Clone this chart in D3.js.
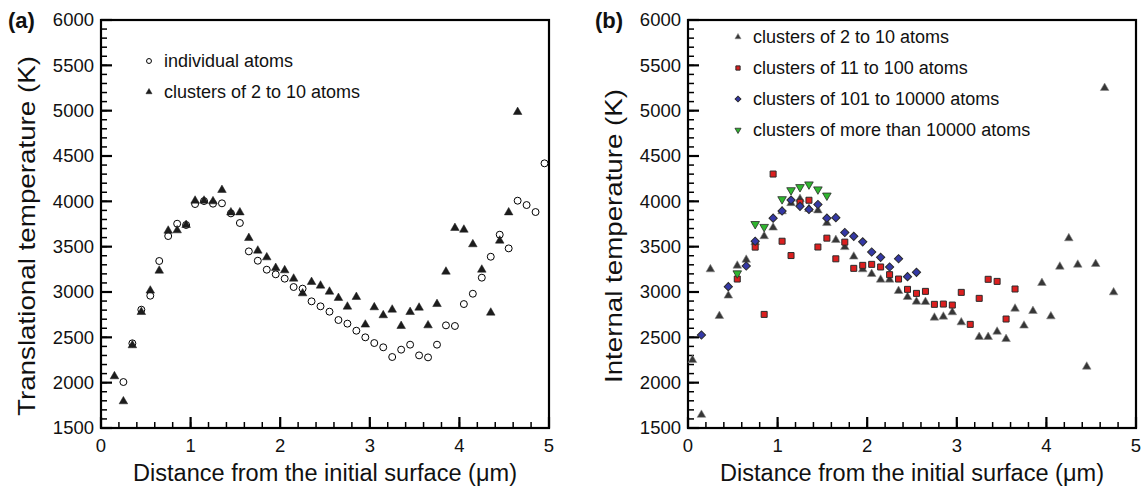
<!DOCTYPE html>
<html>
<head>
<meta charset="utf-8">
<script src="https://cdn.jsdelivr.net/npm/d3@7"></script>
<style>
  body { margin: 0; background: #fff; }
  svg { font-family: "Liberation Sans", Arial, Helvetica, sans-serif; }
</style>
</head>
<body>
<svg id="chart" width="1143" height="488"></svg>
<script>
// panel (a): translational temperature
const aAtoms = [
  [0.25, 2007], [0.35, 2434], [0.45, 2805], [0.55, 2959], [0.65, 3342], [0.75, 3617], [0.85, 3753], [0.95, 3739],
  [1.05, 3970], [1.15, 4003], [1.25, 3974], [1.35, 3978], [1.45, 3867], [1.55, 3761], [1.65, 3448], [1.75, 3345],
  [1.85, 3246], [1.95, 3195], [2.05, 3147], [2.15, 3055], [2.25, 3037], [2.35, 2897], [2.45, 2842], [2.55, 2783],
  [2.65, 2691], [2.75, 2651], [2.85, 2573], [2.95, 2500], [3.05, 2437], [3.15, 2390], [3.25, 2283], [3.35, 2364],
  [3.45, 2419], [3.55, 2301], [3.65, 2279], [3.75, 2419], [3.85, 2632], [3.95, 2625], [4.05, 2867], [4.15, 2981],
  [4.25, 3158], [4.35, 3389], [4.45, 3632], [4.55, 3481], [4.65, 4007], [4.75, 3959], [4.85, 3882], [4.95, 4419]
]
const aSmall = [
  [0.15, 2070], [0.25, 1794], [0.35, 2412], [0.45, 2779], [0.55, 3015], [0.65, 3235], [0.75, 3676], [0.85, 3680],
  [0.95, 3739], [1.05, 4007], [1.15, 4007], [1.25, 4000], [1.35, 4125], [1.45, 3878], [1.55, 3878], [1.65, 3595],
  [1.75, 3456], [1.85, 3382], [1.95, 3265], [2.05, 3239], [2.15, 3147], [2.25, 2985], [2.35, 3110], [2.45, 3070],
  [2.55, 3003], [2.65, 2934], [2.75, 2838], [2.85, 2945], [2.95, 2640], [3.05, 2831], [3.15, 2743], [3.25, 2805],
  [3.35, 2625], [3.45, 2779], [3.55, 2827], [3.65, 2632], [3.75, 2867], [3.85, 3224], [3.95, 3706], [4.05, 3687],
  [4.15, 3526], [4.25, 3246], [4.35, 2772], [4.45, 3566], [4.55, 3878], [4.65, 4985]
]

// panel (b): internal temperature
const bSmall = [
  [0.05, 2250], [0.15, 1645], [0.25, 3250], [0.35, 2735], [0.45, 2960], [0.55, 3290], [0.65, 3355], [0.75, 3550],
  [0.85, 3615], [0.95, 3710], [1.05, 3890], [1.15, 3980], [1.25, 4025], [1.35, 3915], [1.45, 3900], [1.55, 3760],
  [1.65, 3573], [1.75, 3495], [1.85, 3390], [1.95, 3250], [2.05, 3198], [2.15, 3136], [2.25, 3136], [2.35, 3011],
  [2.45, 2945], [2.55, 2893], [2.65, 2890], [2.75, 2717], [2.85, 2728], [2.95, 2776], [3.05, 2665], [3.25, 2504],
  [3.35, 2504], [3.45, 2562], [3.55, 2481], [3.65, 2816], [3.75, 2629], [3.85, 2790], [3.95, 3099], [4.05, 2731],
  [4.15, 3279], [4.25, 3592], [4.35, 3301], [4.45, 2176], [4.55, 3309], [4.65, 5250], [4.75, 2996]
]
const bMedium = [
  [0.55, 3143], [0.75, 3495], [0.85, 2753], [0.95, 4301], [1.05, 3560], [1.15, 3402], [1.25, 3990], [1.35, 4012],
  [1.45, 3496], [1.55, 3594], [1.65, 3366], [1.75, 3550], [1.85, 3261], [1.95, 3294], [2.05, 3305], [2.15, 3276],
  [2.25, 3191], [2.35, 3143], [2.45, 3029], [2.55, 2985], [2.65, 3007], [2.75, 2864], [2.85, 2867], [2.95, 2856],
  [3.05, 2996], [3.15, 2643], [3.25, 2930], [3.35, 3140], [3.45, 3117], [3.55, 2702], [3.65, 3033]
]
const bLarge = [
  [0.15, 2526], [0.45, 3059], [0.65, 3287], [0.75, 3560], [0.95, 3814], [1.05, 3893], [1.15, 4014], [1.25, 3945],
  [1.35, 3911], [1.45, 3965], [1.55, 3814], [1.65, 3820], [1.75, 3656], [1.85, 3614], [1.95, 3553], [2.05, 3441],
  [2.15, 3382], [2.25, 3276], [2.35, 3367], [2.45, 3169], [2.55, 3217]
]
const bHuge = [
  [0.55, 3206], [0.75, 3750], [0.85, 3718], [1.05, 4024], [1.15, 4123], [1.25, 4157], [1.35, 4187], [1.45, 4132],
  [1.55, 4064]
]

const xTicks = [0, 1, 2, 3, 4, 5]
const yTicks = [1500, 2000, 2500, 3000, 3500, 4000, 4500, 5000, 5500, 6000]

const svg = d3.select('#chart')
const plotTop = 20, plotBottom = 428, plotW = 448

const sym = {
  circle: { type: d3.symbolCircle, size: 38, rot: 0 },
  tri: { type: d3.symbolTriangle, size: 32, rot: 0 },
  triDown: { type: d3.symbolTriangle, size: 32, rot: 180 },
  square: { type: d3.symbolSquare, size: 36, rot: 0 },
  diamond: { type: d3.symbolSquare, size: 34, rot: 45 }
}

function panel(left, tag, yTitle, yTitleLen, series, legend) {
  const x = d3.scaleLinear().domain([0, 5]).range([left, left + plotW])
  const y = d3.scaleLinear().domain([1500, 6000]).range([plotBottom, plotTop])
  const g = svg.append('g')

  // inward ticks, drawn straight from the scales
  const tk = g.append('g').attr('stroke', '#000')
  tk.selectAll('.xm').data(d3.range(0, 5.001, 0.2)).join('line')
    .attr('x1', d => x(d)).attr('x2', d => x(d)).attr('y1', plotBottom).attr('y2', plotBottom - 6)
    .attr('stroke-width', 1.5)
  tk.selectAll('.ym').data(d3.range(1500, 6001, 100)).join('line')
    .attr('y1', d => y(d)).attr('y2', d => y(d)).attr('x1', left).attr('x2', left + 6)
    .attr('stroke-width', 1.5)
  tk.selectAll('.xM').data(xTicks).join('line')
    .attr('x1', d => x(d)).attr('x2', d => x(d)).attr('y1', plotBottom).attr('y2', plotBottom - 11)
    .attr('stroke-width', 2.2)
  tk.selectAll('.yM').data(yTicks).join('line')
    .attr('y1', d => y(d)).attr('y2', d => y(d)).attr('x1', left).attr('x2', left + 11)
    .attr('stroke-width', 2.2)

  g.append('g').selectAll('text').data(xTicks).join('text')
    .attr('x', d => x(d)).attr('y', plotBottom + 24).attr('text-anchor', 'middle')
    .attr('font-size', 18.5).attr('fill', '#111').text(d3.format('d'))
  g.append('g').selectAll('text').data(yTicks).join('text')
    .attr('x', left - 7).attr('y', d => y(d)).attr('dy', '0.35em').attr('text-anchor', 'end')
    .attr('font-size', 18.5).attr('fill', '#111').text(d3.format('d'))

  g.append('rect')
    .attr('x', left).attr('y', plotTop).attr('width', plotW).attr('height', plotBottom - plotTop)
    .attr('fill', 'none').attr('stroke', '#000').attr('stroke-width', 2.2)

  series.forEach(s => {
    const shape = d3.symbol().type(sym[s.shape].type).size(sym[s.shape].size)
    g.append('g').selectAll('path').data(s.data).join('path')
      .attr('d', shape)
      .attr('transform', d => `translate(${x(d[0])},${y(d[1])}) rotate(${sym[s.shape].rot})`)
      .attr('fill', s.fill).attr('stroke', s.stroke).attr('stroke-width', s.sw)
  })

  // legend
  legend.items.forEach((it, i) => {
    const s = series.find(d => d.label === it)
    const shape = d3.symbol().type(sym[s.shape].type).size(sym[s.shape].size * 0.5)
    const ly = legend.y + i * legend.step
    g.append('path').attr('d', shape)
      .attr('transform', `translate(${legend.x},${ly}) rotate(${sym[s.shape].rot})`)
      .attr('fill', s.fill).attr('stroke', s.stroke).attr('stroke-width', s.sw)
    g.append('text').attr('x', legend.x + 15).attr('y', ly).attr('dy', '0.35em')
      .attr('font-size', 18).attr('fill', '#111').text(it)
  })

  g.append('text').attr('x', left - 93).attr('y', 28).attr('font-size', 22)
    .attr('font-weight', 'bold').attr('fill', '#111').text(tag)
  g.append('text')
    .attr('transform', `translate(${left - 66},236) rotate(-90)`)
    .attr('text-anchor', 'middle').attr('font-size', 24).attr('fill', '#111')
    .attr('textLength', yTitleLen).attr('lengthAdjust', 'spacingAndGlyphs').text(yTitle)
  g.append('text').attr('x', left + plotW / 2).attr('y', 481)
    .attr('text-anchor', 'middle').attr('font-size', 23.5).attr('fill', '#111')
    .attr('textLength', 384).attr('lengthAdjust', 'spacingAndGlyphs')
    .text('Distance from the initial surface (\u03bcm)')
}

panel(101, '(a)', 'Translational temperature (K)', 360, [
  { label: 'individual atoms', data: aAtoms, shape: 'circle', fill: '#fff', stroke: '#000', sw: 1 },
  { label: 'clusters of 2 to 10 atoms', data: aSmall, shape: 'tri', fill: '#1c1c1c', stroke: '#1c1c1c', sw: 0.5 }
], { x: 149, y: 61, step: 31, items: ['individual atoms', 'clusters of 2 to 10 atoms'] })

panel(688, '(b)', 'Internal temperature (K)', 294, [
  { label: 'clusters of 2 to 10 atoms', data: bSmall, shape: 'tri', fill: '#363636', stroke: '#888', sw: 0.6 },
  { label: 'clusters of 11 to 100 atoms', data: bMedium, shape: 'square', fill: '#dc1f1f', stroke: '#2a2a2a', sw: 1 },
  { label: 'clusters of 101 to 10000 atoms', data: bLarge, shape: 'diamond', fill: '#3438a6', stroke: '#2a2a2a', sw: 1 },
  { label: 'clusters of more than 10000 atoms', data: bHuge, shape: 'triDown', fill: '#2fb52f', stroke: '#2a2a2a', sw: 0.8 }
], { x: 738, y: 37, step: 31, items: ['clusters of 2 to 10 atoms', 'clusters of 11 to 100 atoms',
  'clusters of 101 to 10000 atoms', 'clusters of more than 10000 atoms'] })
</script>
</body>
</html>
